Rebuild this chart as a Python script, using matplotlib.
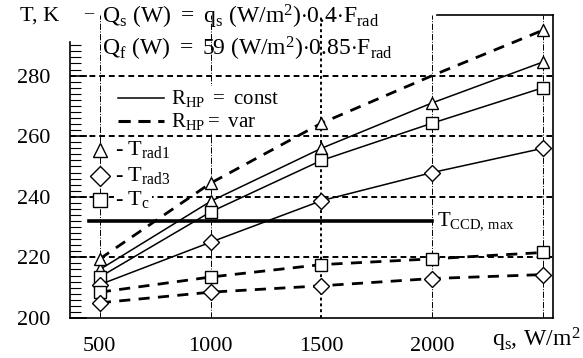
import matplotlib.pyplot as plt
from matplotlib.lines import Line2D

plt.rcParams['font.family'] = 'Liberation Serif'
plt.rcParams['mathtext.fontset'] = 'custom'
plt.rcParams['mathtext.rm'] = 'Liberation Serif'
plt.rcParams['mathtext.it'] = 'Liberation Serif'

# heat flux, W/m2
q_s = [500, 1000, 1500, 2000, 2500]

# R_HP = const (solid)
t_rad1_const = [216, 238.5, 256, 271, 284.5]
t_rad3_const = [211, 225, 238.7, 248, 256]
t_c_const = [213.5, 235, 252, 264.3, 276]

# R_HP = var (dashed)
t_rad1_var = [219.5, 244.5, 264.3, 280, 295]
t_rad3_var = [205, 208.5, 210.6, 213, 214.3]
t_c_var = [208.5, 213.5, 217.6, 219.5, 221.6]

t_ccd_max = 232
y_ticks = [200, 220, 240, 260, 280]
x_ticks = [500, 1000, 1500, 2000]

fig = plt.figure(figsize=(5.83, 3.58), dpi=100)
ax = fig.add_axes([0.120, 0.112, 0.8285, 0.846])
ax.set_xlim(365, 2545)
ax.set_ylim(200, 300)

# grid
for y in y_ticks[1:]:
    ax.axhline(y, color='black', lw=1.4, ls=(0, (3, 2)), zorder=1)
for x in [500, 1000, 2000, 2500]:
    ax.axvline(x, color='black', lw=0.7, ls='-.', zorder=1)
ax.axvline(1500, color='black', lw=1.4, ls=(0, (1.5, 1.5)), zorder=1)

mk = dict(mfc='white', mec='black', mew=1.0, color='black', zorder=3)
ax.plot(q_s, t_rad1_const, '-', lw=1.1, marker='^', ms=9, **mk)
ax.plot(q_s, t_c_const, '-', lw=1.1, marker='s', ms=8, **mk)
ax.plot(q_s, t_rad3_const, '-', lw=1.1, marker='D', ms=8, **mk)
ax.plot(q_s, t_rad1_var, ls=(0, (4, 3)), lw=2, marker='^', ms=9,
        markevery=[0, 1, 2, 4], **mk)
ax.plot(q_s, t_c_var, ls=(0, (4, 3)), lw=2, marker='s', ms=8, **mk)
ax.plot(q_s, t_rad3_var, ls=(0, (4, 3)), lw=2, marker='D', ms=8, **mk)

ax.plot([450, 2000], [t_ccd_max, t_ccd_max], color='black', lw=2.6, zorder=4)
ax.text(2020, t_ccd_max, r'$\mathrm{T_{CCD,\,max}}$', fontsize=15, va='center', ha='left',
        bbox=dict(fc='white', ec='none', pad=0), zorder=5)

# axes / ticks
for s in ['top', 'right', 'bottom', 'left']:
    ax.spines[s].set_linewidth(1.2)
ax.spines['top'].set_visible(False)
ax.spines['left'].set_bounds(200, 291)
ax.add_line(Line2D([0.76, 1.0], [1.0, 1.0], transform=ax.transAxes, color='black',
                   lw=1.2, clip_on=False))
ax.set_yticks(y_ticks)
ax.set_yticks(range(200, 292, 2), minor=True)
ax.tick_params(axis='y', which='major', direction='in', length=12, width=1.2,
               labelsize=16, pad=14)
ax.tick_params(axis='y', which='minor', direction='in', length=8, width=0.8)
ax.set_xticks(x_ticks)
ax.tick_params(axis='x', length=0, labelsize=16, pad=14)

fig.text(0.995, 0.05, r'$\mathrm{q_s,\,W/m^2}$', fontsize=17, ha='right', va='center')
fig.text(0.035, 0.955, 'T, K', fontsize=16, ha='left', va='center')
fig.text(0.145, 0.962, '\u2013', fontsize=13, ha='left', va='center')
fig.text(0.175, 0.952, r'$\mathrm{Q_s\ (W)\ =\ q_s\ (W/m^2){\cdot}0.4{\cdot}F_{rad}}$',
         fontsize=17, ha='left', va='center')
fig.text(0.175, 0.862, r'$\mathrm{Q_f\ (W)\ =\ 59\ (W/m^2){\cdot}0.85{\cdot}F_{rad}}$',
         fontsize=17, ha='left', va='center')

# legend: line styles
ax.plot([580, 790], [272.5, 272.5], color='black', lw=1.1, zorder=4)
ax.plot([580, 790], [265, 265], color='black', lw=2.2, ls=(0, (4, 2.5)), zorder=4)
bb = dict(fc='white', ec='none', pad=1)
ax.text(820, 272.5, r'$\mathrm{R_{HP}\ =\ const}$', fontsize=15, va='center', bbox=bb, zorder=5)
ax.text(820, 265, r'$\mathrm{R_{HP}{=}\ var}$', fontsize=15, va='center', bbox=bb, zorder=5)

# legend: markers
for yv, m, lab in [(255.5, '^', r'- T$_{\mathrm{rad1}}$'),
                   (247, 'D', r'- T$_{\mathrm{rad3}}$'),
                   (239, 's', r'- T$_{\mathrm{c}}$')]:
    ax.plot([500], [yv], marker=m, ms=10, mfc='white', mec='black', mew=1.0, zorder=6)
    ax.text(570, yv, lab, fontsize=16, va='center', bbox=bb, zorder=5)

fig.savefig('out.png', dpi=100)
